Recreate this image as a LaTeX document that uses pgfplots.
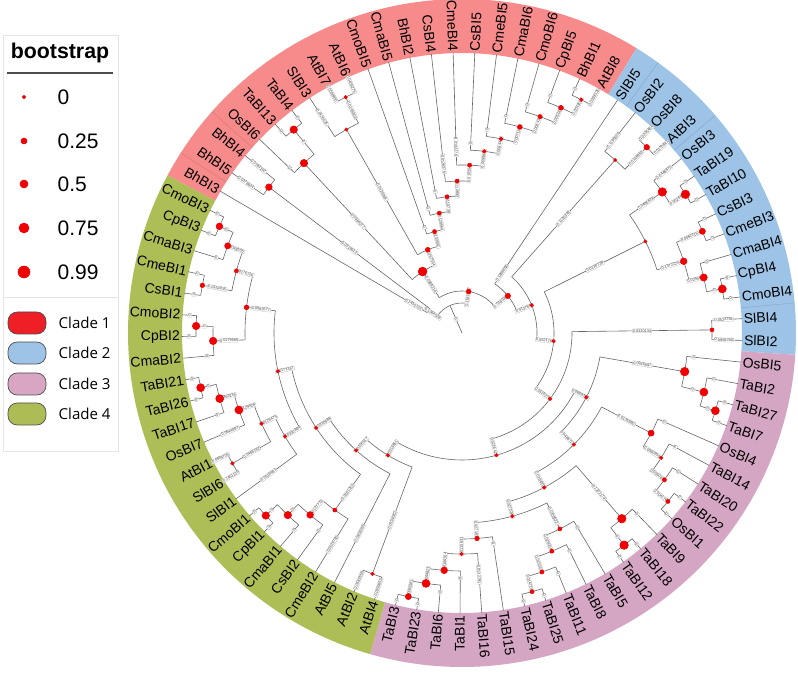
\documentclass[border=0pt]{standalone}
\usepackage{fontspec}
\setmainfont{Liberation Sans}
\newfontfamily\opensans{Open Sans}
\usepackage{pgfplots}
\pgfplotsset{compat=1.18}
\definecolor{treegray}{HTML}{666666}
\definecolor{dotred}{HTML}{F00000}
\definecolor{cA}{HTML}{F78B8B}
\definecolor{cB}{HTML}{9DC3E6}
\definecolor{cC}{HTML}{D5A6C3}
\definecolor{cD}{HTML}{AEBE56}
\definecolor{kA}{HTML}{EE2026}
\definecolor{kB}{HTML}{9DC3E6}
\definecolor{kC}{HTML}{D6A6C3}
\definecolor{kD}{HTML}{AEBC55}
\tikzset{treeline/.style={draw=treegray, line width=0.45pt},
  nbox/.style={draw=gray!55, fill=white, line width=0.2pt, inner sep=0.45pt, font=\fontsize{2.9}{3}\selectfont, text=black!75},
  leaflab/.style={inner sep=0pt, font=\fontsize{10.5}{12}\selectfont, text=black}}
\pgfplotsset{tree/.style={no markers, draw=treegray, line width=0.45pt, data cs=polar, forget plot},
  dot/.style={only marks, mark=*, color=dotred, data cs=polar, forget plot}}
% passes
\newcommand\NDline[7]{\addplot[tree] coordinates {(#1,#3) (#1,#2)};\draw[treeline] (axis cs:{#2*cos(#4)},{#2*sin(#4)}) arc[start angle=#4, end angle=#5, radius={#2*0.75pt}];}
\newcommand\LFline[5]{\addplot[tree] coordinates {(#1,#2) (#1,280.5)};}
\newcommand\NDbox[7]{\pgfmathparse{cos(#1)}\ifdim\pgfmathresult pt<0pt\relax\node[nbox, rotate={#1+180}] at (axis cs:{(#2+#3)/2*cos(#1)},{(#2+#3)/2*sin(#1)}) {#7};\else\node[nbox, rotate={#1}] at (axis cs:{(#2+#3)/2*cos(#1)},{(#2+#3)/2*sin(#1)}) {#7};\fi}
\newcommand\LFbox[5]{\pgfmathparse{cos(#1)}\ifdim\pgfmathresult pt<0pt\relax\node[nbox, rotate={#1+180}] at (axis cs:{#4*cos(#1)},{#4*sin(#1)}) {#5};\else\node[nbox, rotate={#1}] at (axis cs:{#4*cos(#1)},{#4*sin(#1)}) {#5};\fi}
\newcommand\NDdot[7]{\ifdim#6pt>0pt\relax\addplot[dot, mark size=#6pt] coordinates {(#1,#2)};\fi}
\newcommand\LFlab[5]{\pgfmathparse{cos(#1)}\ifdim\pgfmathresult pt<0pt\relax\node[leaflab, anchor=east, rotate={#1+180}] at (axis cs:{282*cos(#1)},{282*sin(#1)}) {#3};\else\node[leaflab, anchor=west, rotate={#1}] at (axis cs:{282*cos(#1)},{282*sin(#1)}) {#3};\fi}
\newcommand\gobS[7]{}
\newcommand\gobF[5]{}
\newcommand\ND{}\newcommand\LF{}
\newcommand\sector[3]{\fill[#3] (axis cs:{280*cos(#1)},{280*sin(#1)}) arc[start angle=#1, end angle=#2, radius=210pt] -- (axis cs:{334*cos(#2)},{334*sin(#2)}) arc[start angle=#2, end angle=#1, radius=250.5pt] -- cycle;}
% tree: \ND{angle}{r}{parent r}{arc from}{arc to}{dot size pt}{branch label}
%       \LF{angle}{parent r}{name}{box r}{box label}
\newcommand\TREE{%
\ND{113.5}{30}{0}{146.27}{80.82}{0}{0}%
\ND{146.27}{40}{30}{149.60}{142.935}{0}{0.1364528}%
\LF{149.60}{40}{BhBI3}{56}{0.1455722}%
\ND{142.935}{242}{40}{145.16}{140.71}{2.5}{0.0319612}%
\LF{145.16}{242}{BhBI5}{263}{0.0378624}%
\LF{140.71}{242}{BhBI4}{263}{0.0783162}%
\ND{80.82}{42}{30}{122.66}{38.98}{1.8}{0.1161377}%
\ND{122.66}{73}{42}{132.935}{112.38}{3.3}{0.0589216}%
\ND{132.935}{232}{73}{136.27}{129.6}{2.8}{0.0864077}%
\LF{136.27}{232}{OsBI6}{239}{0}%
\ND{129.6}{264}{232}{131.82}{127.38}{2.8}{0}%
\LF{131.82}{264}{TaBI13}{271}{0}%
\LF{127.38}{264}{TaBI4}{271}{0}%
\ND{112.38}{90}{73}{119.6}{105.16}{1.8}{0.0167534}%
\ND{119.6}{234}{90}{122.93}{116.265}{1.2}{0.0426981}%
\LF{122.93}{234}{SlBI3}{257}{0.0426015}%
\ND{116.265}{263}{234}{118.49}{114.04}{1.3}{0.0148803}%
\LF{118.49}{263}{AtBI7}{272}{0.0596460}%
\LF{114.04}{263}{AtBI6}{272}{0.0409275}%
\ND{105.16}{105}{90}{109.6}{100.72}{1.5}{0.0133592}%
\LF{109.6}{105}{CmoBI5}{112}{0}%
\ND{100.72}{122}{105}{105.16}{96.275}{1.5}{0.0128564}%
\LF{105.16}{122}{CmaBI5}{129}{0}%
\ND{96.275}{137}{122}{100.71}{91.84}{1.5}{0.0119738}%
\LF{100.71}{137}{BhBI2}{144}{0}%
\ND{91.84}{152}{137}{96.27}{87.41}{1.5}{0.0112893}%
\LF{96.27}{152}{CsBI4}{170}{0.0126375}%
\ND{87.41}{168}{152}{91.82}{83.0}{1.5}{0.0102544}%
\LF{91.82}{168}{CmeBI4}{186}{0.0102276}%
\ND{83.0}{183}{168}{87.38}{78.625}{1.4}{0.0099876}%
\LF{87.38}{183}{CsBI5}{190}{0}%
\ND{78.625}{198}{183}{82.93}{74.32}{1.4}{0.0084432}%
\LF{82.93}{198}{CmeBI5}{205}{0}%
\ND{74.32}{214}{198}{78.49}{70.155}{1.8}{0.0071258}%
\LF{78.49}{214}{CmaBI6}{221}{0}%
\ND{70.155}{230}{214}{74.04}{66.27}{1.6}{0.0064311}%
\LF{74.04}{230}{CmoBI6}{237}{0}%
\ND{66.27}{246}{230}{69.6}{62.935}{1.8}{0.0053877}%
\LF{69.6}{246}{CpBI5}{253}{0}%
\ND{62.935}{262}{246}{65.16}{60.71}{1.3}{0.0042619}%
\LF{65.16}{262}{BhBI1}{269}{0}%
\LF{60.71}{262}{AtBI8}{270}{0.0388125}%
\ND{38.98}{59}{42}{56.27}{21.68}{2.0}{0.0165307}%
\LF{56.27}{59}{SlBI5}{72}{0.1698658}%
\ND{21.68}{75}{59}{48.49}{-5.13}{1.3}{0.0137843}%
\ND{48.49}{231}{75}{51.82}{45.155}{1.2}{0.1126349}%
\LF{51.82}{231}{OsBI2}{245}{0.1195603}%
\ND{45.155}{262}{231}{47.38}{42.93}{2.1}{0.0148962}%
\LF{47.38}{262}{OsBI8}{272}{0.0205464}%
\LF{42.93}{262}{AtBI3}{272}{0.0270841}%
\ND{-5.13}{92}{75}{26.545}{-36.8}{1.3}{0.0521768}%
\ND{26.545}{205}{92}{35.155}{17.935}{1.2}{0.0130728}%
\ND{35.155}{245}{205}{38.49}{31.82}{3.2}{0.0495628}%
\LF{38.49}{245}{OsBI3}{258}{0.0448873}%
\ND{31.82}{263}{245}{34.04}{29.6}{3.2}{0.0026978}%
\LF{34.04}{263}{TaBI19}{270}{0}%
\LF{29.6}{263}{TaBI10}{270}{0}%
\ND{17.935}{233}{205}{22.935}{12.935}{2.5}{0.1372224}%
\ND{22.935}{261}{233}{25.16}{20.71}{2.3}{0.0062215}%
\LF{25.16}{261}{CsBI3}{268}{0}%
\LF{20.71}{261}{CmeBI3}{268}{0}%
\ND{12.935}{248}{233}{16.27}{9.6}{2.7}{0.0294621}%
\LF{16.27}{248}{CmaBI4}{255}{0}%
\ND{9.6}{264}{248}{11.82}{7.38}{3.0}{0}%
\LF{11.82}{264}{CpBI4}{271}{0}%
\LF{7.38}{264}{CmoBI4}{271}{0}%
\ND{-36.8}{110}{92}{0.71}{-74.3}{1.3}{0.0519276}%
\ND{0.71}{250}{110}{2.93}{-1.51}{1.5}{0.0320134}%
\LF{2.93}{250}{SlBI4}{262}{0.0522794}%
\LF{-1.51}{250}{SlBI2}{262}{0.0958780}%
\ND{-74.3}{127}{110}{-27.39}{-121.21}{1.3}{0.0216427}%
\ND{-27.39}{140}{127}{-9.85}{-44.93}{1.3}{0.0669397}%
\ND{-9.85}{226}{140}{-5.96}{-13.73}{3.2}{0.0945897}%
\LF{-5.96}{226}{OsBI5}{233}{0}%
\ND{-13.73}{249}{226}{-10.4}{-17.065}{3.0}{0}%
\LF{-10.4}{249}{TaBI2}{256}{0}%
\ND{-17.065}{265}{249}{-14.84}{-19.29}{3.0}{0}%
\LF{-14.84}{265}{TaBI27}{272}{0}%
\LF{-19.29}{265}{TaBI7}{272}{0}%
\ND{-44.93}{158}{140}{-27.9}{-61.96}{1.3}{0.0488715}%
\ND{-27.9}{214}{158}{-23.73}{-32.07}{2.3}{0.0135980}%
\LF{-23.73}{214}{OsBI4}{221}{0}%
\ND{-32.07}{235}{214}{-28.18}{-35.955}{1.3}{0.0060959}%
\LF{-28.18}{235}{TaBI14}{242}{0}%
\ND{-35.955}{250}{235}{-32.62}{-39.29}{1.5}{0.0050876}%
\LF{-32.62}{250}{TaBI20}{257}{0}%
\ND{-39.29}{266}{250}{-37.07}{-41.51}{1.5}{0.0041762}%
\LF{-37.07}{266}{TaBI22}{273}{0}%
\LF{-41.51}{266}{OsBI1}{273}{0}%
\ND{-61.96}{175}{158}{-49.29}{-74.64}{1.3}{0.0184362}%
\ND{-49.29}{245}{175}{-45.96}{-52.62}{3.2}{0.1202179}%
\LF{-45.96}{245}{TaBI9}{252}{0}%
\ND{-52.62}{267}{245}{-50.4}{-54.84}{3.2}{0}%
\LF{-50.4}{267}{TaBI18}{274}{0}%
\LF{-54.84}{267}{TaBI12}{274}{0}%
\ND{-74.64}{190}{175}{-63.455}{-85.82}{1.3}{0.0271085}%
\ND{-63.455}{219}{190}{-59.29}{-67.62}{1.5}{0.0356622}%
\LF{-59.29}{219}{TaBI5}{226}{0}%
\ND{-67.62}{236}{219}{-63.73}{-71.51}{1.5}{0.0260541}%
\LF{-63.73}{236}{TaBI8}{243}{0}%
\ND{-71.51}{252}{236}{-68.18}{-74.845}{1.5}{0.0153373}%
\LF{-68.18}{252}{TaBI11}{259}{0}%
\ND{-74.845}{268}{252}{-72.62}{-77.07}{1.5}{0.0147153}%
\LF{-72.62}{268}{TaBI25}{275}{0}%
\LF{-77.07}{268}{TaBI24}{275}{0}%
\ND{-85.82}{206}{190}{-81.51}{-90.125}{1.7}{0.0271617}%
\LF{-81.51}{206}{TaBI15}{213}{0}%
\ND{-90.125}{221}{206}{-85.96}{-94.29}{1.3}{0.0115631}%
\LF{-85.96}{221}{TaBI16}{242}{0.0132791}%
\ND{-94.29}{238}{221}{-90.4}{-98.175}{2.5}{0.0106264}%
\LF{-90.4}{238}{TaBI1}{245}{0}%
\ND{-98.175}{253}{238}{-94.84}{-101.51}{3.0}{0.0094821}%
\LF{-94.84}{253}{TaBI6}{260}{0}%
\ND{-101.51}{269}{253}{-99.29}{-103.73}{2.3}{0.0082561}%
\LF{-99.29}{269}{TaBI23}{275}{0}%
\LF{-103.73}{269}{TaBI3}{275}{0}%
\ND{-121.21}{143}{127}{-110.4}{-132.02}{1.3}{0.0316851}%
\ND{-110.4}{257}{143}{-108.18}{-112.62}{1.3}{0.0534082}%
\LF{-108.18}{257}{AtBI4}{268}{0.0599653}%
\LF{-112.62}{257}{AtBI2}{268}{0.0583558}%
\ND{-132.02}{158}{143}{-117.07}{-146.96}{1.3}{0.0300517}%
\LF{-117.07}{158}{AtBI5}{225}{0.0808265}%
\ND{-146.96}{174}{158}{-125.68}{-168.245}{1.3}{0.0230988}%
\ND{-125.68}{218}{174}{-121.51}{-129.85}{1.5}{0.0361252}%
\LF{-121.51}{218}{CmeBI2}{248}{0.0539760}%
\ND{-129.85}{237}{218}{-125.96}{-133.73}{2.5}{0.0127773}%
\LF{-125.96}{237}{CsBI2}{244}{0}%
\ND{-133.73}{252}{237}{-130.4}{-137.065}{2.8}{0}%
\LF{-130.4}{252}{CmaBI1}{259}{0}%
\ND{-137.065}{268}{252}{-134.84}{-139.29}{2.8}{0}%
\LF{-134.84}{268}{CpBI1}{274}{0}%
\LF{-139.29}{268}{CmoBI1}{274}{0}%
\ND{-168.245}{188}{174}{-149.7}{-186.79}{1.3}{0.0177287}%
\ND{-149.7}{205}{188}{-143.73}{-155.68}{1.3}{0.0330884}%
\LF{-143.73}{205}{SlBI1}{240}{0.0536481}%
\ND{-155.68}{220}{205}{-150.4}{-160.96}{1.3}{0.0126475}%
\ND{-150.4}{264}{220}{-148.18}{-152.62}{1.3}{0.0466192}%
\LF{-148.18}{264}{SlBI6}{272}{0.1451136}%
\LF{-152.62}{264}{AtBI1}{272}{0.0804705}%
\ND{-160.96}{236}{220}{-157.07}{-164.845}{3.0}{0.1129428}%
\LF{-157.07}{236}{OsBI7}{252}{0.0644897}%
\ND{-164.845}{251}{236}{-161.51}{-168.18}{3.0}{0.0363235}%
\LF{-161.51}{251}{TaBI17}{258}{0}%
\ND{-168.18}{267}{251}{-165.96}{-170.4}{3.0}{0}%
\LF{-165.96}{267}{TaBI26}{274}{0}%
\LF{-170.4}{267}{TaBI21}{274}{0}%
\ND{-186.79}{217}{188}{-178.175}{-195.4}{1.8}{0.0682677}%
\ND{-178.175}{249}{217}{-174.84}{-181.51}{2.8}{0.0179565}%
\LF{-174.84}{249}{CmaBI2}{256}{0}%
\ND{-181.51}{266}{249}{-179.29}{-183.73}{2.8}{0}%
\LF{-179.29}{266}{CpBI2}{273}{0}%
\LF{-183.73}{266}{CmoBI2}{273}{0}%
\ND{-195.4}{234}{217}{-190.4}{-200.4}{1.5}{0.0176726}%
\ND{-190.4}{264}{234}{-188.18}{-192.62}{1.7}{0.0354035}%
\LF{-188.18}{264}{CsBI1}{271}{0}%
\LF{-192.62}{264}{CmeBI1}{271}{0}%
\ND{-200.4}{250}{234}{-197.07}{-203.735}{2.3}{0.0048505}%
\LF{-197.07}{250}{CmaBI3}{257}{0}%
\ND{-203.735}{265}{250}{-201.51}{-205.96}{2.5}{0}%
\LF{-201.51}{265}{CpBI3}{272}{0}%
\LF{-205.96}{265}{CmoBI3}{272}{0}%
}
\begin{document}
\begin{tikzpicture}
\begin{axis}[name=ax, x=0.75pt, y=0.75pt, xmin=-462, xmax=336, ymin=-340, ymax=333,
  hide axis, clip=false]
% clade ring
\sector{151.82}{58.49}{cA}
\sector{58.49}{-3.735}{cB}
\sector{-3.735}{-105.955}{cC}
\sector{-105.955}{-208.18}{cD}
\addplot[no markers, draw=cA!85!black, line width=0.3pt, data cs=polar, forget plot] coordinates {(147.38,280) (147.38,334)};
\addplot[no markers, draw=cA!85!black, line width=0.3pt, data cs=polar, forget plot] coordinates {(138.49,280) (138.49,334)};
\addplot[no markers, draw=cB!85!black, line width=0.3pt, data cs=polar, forget plot] coordinates {(54.05,280) (54.05,334)};
\addplot[no markers, draw=cB!85!black, line width=0.3pt, data cs=polar, forget plot] coordinates {(40.71,280) (40.71,334)};
\addplot[no markers, draw=cB!85!black, line width=0.3pt, data cs=polar, forget plot] coordinates {(5.155,280) (5.155,334)};
% tree passes
\let\ND\NDline\let\LF\LFline\TREE
\let\ND\NDbox\let\LF\LFbox\TREE
\let\ND\NDdot\let\LF\gobF\TREE
\let\ND\gobS\let\LF\LFlab\TREE
% legend
\draw[draw=black!10, line width=0.75pt] (axis cs:-459,297) rectangle (axis cs:-344,-119);
\node[font=\bfseries\fontsize{16}{18}\selectfont] at (axis cs:-402,280) {bootstrap};
\draw[black!70, line width=0.9pt] (axis cs:-455,260) -- (axis cs:-349,260);
\addplot[only marks, mark=*, color=dotred, mark size=1.3pt, forget plot] coordinates {(-438,236)};
\addplot[only marks, mark=*, color=dotred, mark size=2.25pt, forget plot] coordinates {(-438,192)};
\addplot[only marks, mark=*, color=dotred, mark size=3.0pt, forget plot] coordinates {(-438,149)};
\addplot[only marks, mark=*, color=dotred, mark size=3.75pt, forget plot] coordinates {(-438,105)};
\addplot[only marks, mark=*, color=dotred, mark size=4.5pt, forget plot] coordinates {(-438,61)};
\node[anchor=west, font=\fontsize{15.75}{18}\selectfont] at (axis cs:-409,236) {0};
\node[anchor=west, font=\fontsize{15.75}{18}\selectfont] at (axis cs:-409,192) {0.25};
\node[anchor=west, font=\fontsize{15.75}{18}\selectfont] at (axis cs:-409,149) {0.5};
\node[anchor=west, font=\fontsize{15.75}{18}\selectfont] at (axis cs:-409,105) {0.75};
\node[anchor=west, font=\fontsize{15.75}{18}\selectfont] at (axis cs:-409,61) {0.99};
\draw[black!10, line width=0.75pt] (axis cs:-459,35) -- (axis cs:-344,35);
\draw[fill=kA, draw=black!70, line width=0.5pt, rounded corners=7pt] (axis cs:-454,21) rectangle (axis cs:-416,-1);
\draw[fill=kB, draw=black!70, line width=0.5pt, rounded corners=7pt] (axis cs:-454,-9) rectangle (axis cs:-416,-31);
\draw[fill=kC, draw=black!70, line width=0.5pt, rounded corners=7pt] (axis cs:-454,-40) rectangle (axis cs:-416,-62);
\draw[fill=kD, draw=black!70, line width=0.5pt, rounded corners=7pt] (axis cs:-454,-70) rectangle (axis cs:-416,-92);
\node[anchor=west, font=\opensans\fontsize{11.3}{13}\selectfont] at (axis cs:-408,10) {Clade 1};
\node[anchor=west, font=\opensans\fontsize{11.3}{13}\selectfont] at (axis cs:-408,-20) {Clade 2};
\node[anchor=west, font=\opensans\fontsize{11.3}{13}\selectfont] at (axis cs:-408,-51) {Clade 3};
\node[anchor=west, font=\opensans\fontsize{11.3}{13}\selectfont] at (axis cs:-408,-81) {Clade 4};
\end{axis}
\pgfresetboundingbox
\path[use as bounding box] (ax.south west) rectangle (ax.north east);
\end{tikzpicture}
\end{document}
